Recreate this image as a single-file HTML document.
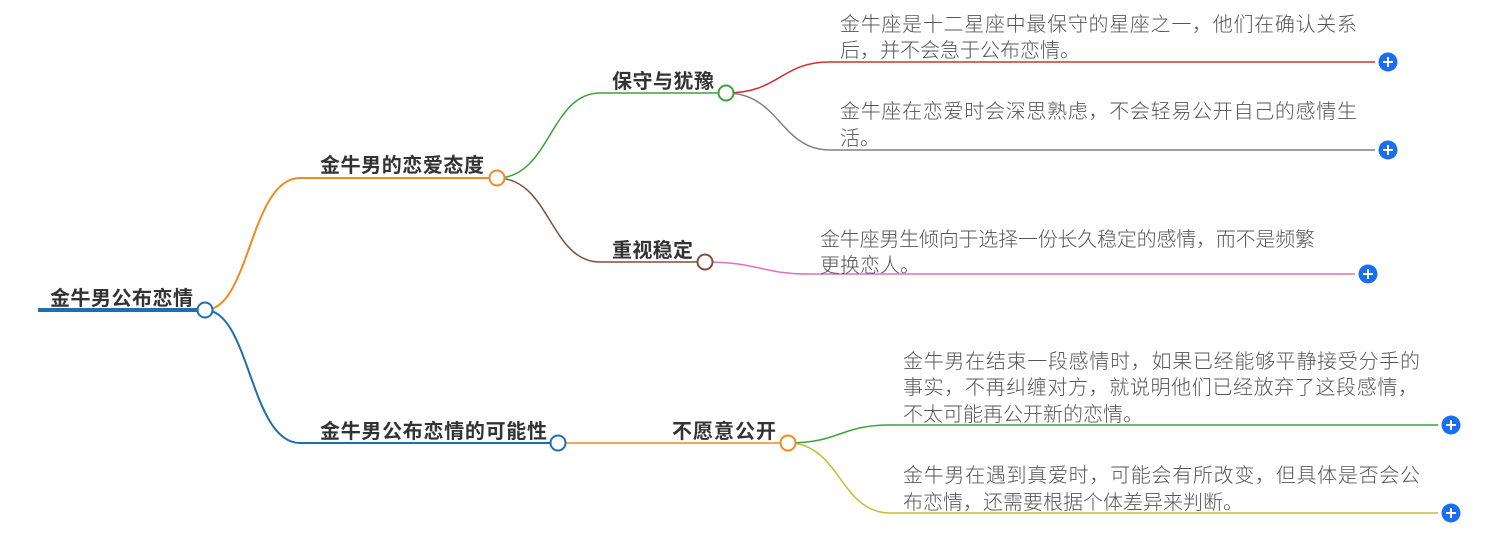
<!DOCTYPE html>
<html><head><meta charset="utf-8"><style>
html,body{margin:0;padding:0;background:#fff;width:1501px;height:560px;overflow:hidden}
svg{display:block}
.b{font-family:"Liberation Sans","Noto Sans CJK SC",sans-serif;font-weight:bold;font-size:20px;fill:#333}
.t{font-family:"Liberation Sans","Noto Sans CJK SC",sans-serif;font-weight:300;font-size:20px;fill:#555}
</style></head><body>
<svg width="1501" height="560" viewBox="0 0 1501 560" xmlns="http://www.w3.org/2000/svg">
<g fill="none">
<path d="M38 310 H205" stroke="#1f6fb0" stroke-width="4"/>
<path d="M205 310 C250 310 250 178 300 178 H497" stroke="#f08a24" stroke-width="2"/>
<path d="M205 310 C250 310 250 443 300 443 H558" stroke="#1f6fb0" stroke-width="2"/>
<path d="M497 178 C550 178 550 93 600 93 H726" stroke="#3aa33a" stroke-width="1.5"/>
<path d="M497 178 C550 178 550 262 600 262 H705" stroke="#7b5040" stroke-width="1.5"/>
<path d="M726 93 C780 93 780 62 830 62 H1375" stroke="#d03030" stroke-width="1.5"/>
<path d="M726 93 C780 93 780 150 830 150 H1375" stroke="#808080" stroke-width="1.5"/>
<path d="M705 262 C760 262 760 274 810 274 H1355" stroke="#e070c0" stroke-width="1.5"/>
<path d="M558 443 H788" stroke="#f08a24" stroke-width="1.5"/>
<path d="M788 443 C840 443 840 425 890 425 H1438" stroke="#3aa33a" stroke-width="1.5"/>
<path d="M788 443 C840 443 840 513 890 513 H1438" stroke="#c0c030" stroke-width="1.5"/>
</g>
<g fill="#fff" stroke-width="2">
<circle cx="205" cy="310" r="7.5" stroke="#1f6fb0"/>
<circle cx="497" cy="178" r="7.5" stroke="#f08a24"/>
<circle cx="558" cy="443" r="7.5" stroke="#1f6fb0"/>
<circle cx="726" cy="93" r="7.5" stroke="#3aa33a"/>
<circle cx="705" cy="262" r="7.5" stroke="#7b5040"/>
<circle cx="788" cy="443" r="7.5" stroke="#f08a24"/>
</g>
<g>
<g transform="translate(1388,62)"><circle r="9.5" fill="#1a6ff0"/><path d="M-5 0H5M0 -5V5" stroke="#fff" stroke-width="2"/></g>
<g transform="translate(1388,150)"><circle r="9.5" fill="#1a6ff0"/><path d="M-5 0H5M0 -5V5" stroke="#fff" stroke-width="2"/></g>
<g transform="translate(1368,274)"><circle r="9.5" fill="#1a6ff0"/><path d="M-5 0H5M0 -5V5" stroke="#fff" stroke-width="2"/></g>
<g transform="translate(1451,425)"><circle r="9.5" fill="#1a6ff0"/><path d="M-5 0H5M0 -5V5" stroke="#fff" stroke-width="2"/></g>
<g transform="translate(1451,513)"><circle r="9.5" fill="#1a6ff0"/><path d="M-5 0H5M0 -5V5" stroke="#fff" stroke-width="2"/></g>
</g>
<text class="b" x="50" y="305" textLength="143">金牛男公布恋情</text>
<text class="b" x="320" y="172" textLength="164">金牛男的恋爱态度</text>
<text class="b" x="320" y="438" textLength="227">金牛男公布恋情的可能性</text>
<text class="b" x="612" y="88" textLength="102">保守与犹豫</text>
<text class="b" x="612" y="257" textLength="81">重视稳定</text>
<text class="b" x="672" y="438" textLength="104">不愿意公开</text>
<text class="t" x="840" y="31" textLength="517">金牛座是十二星座中最保守的星座之一，他们在确认关系</text>
<text class="t" x="840" y="57">后，并不会急于公布恋情。</text>
<text class="t" x="840" y="118" textLength="517">金牛座在恋爱时会深思熟虑，不会轻易公开自己的感情生</text>
<text class="t" x="840" y="145">活。</text>
<text class="t" x="820" y="246" textLength="495">金牛座男生倾向于选择一份长久稳定的感情，而不是频繁</text>
<text class="t" x="820" y="272">更换恋人。</text>
<text class="t" x="903" y="368" textLength="517">金牛男在结束一段感情时，如果已经能够平静接受分手的</text>
<text class="t" x="903" y="394" textLength="515">事实，不再纠缠对方，就说明他们已经放弃了这段感情，</text>
<text class="t" x="903" y="421">不太可能再公开新的恋情。</text>
<text class="t" x="903" y="482" textLength="517">金牛男在遇到真爱时，可能会有所改变，但具体是否会公</text>
<text class="t" x="903" y="509">布恋情，还需要根据个体差异来判断。</text>
</svg>
</body></html>
